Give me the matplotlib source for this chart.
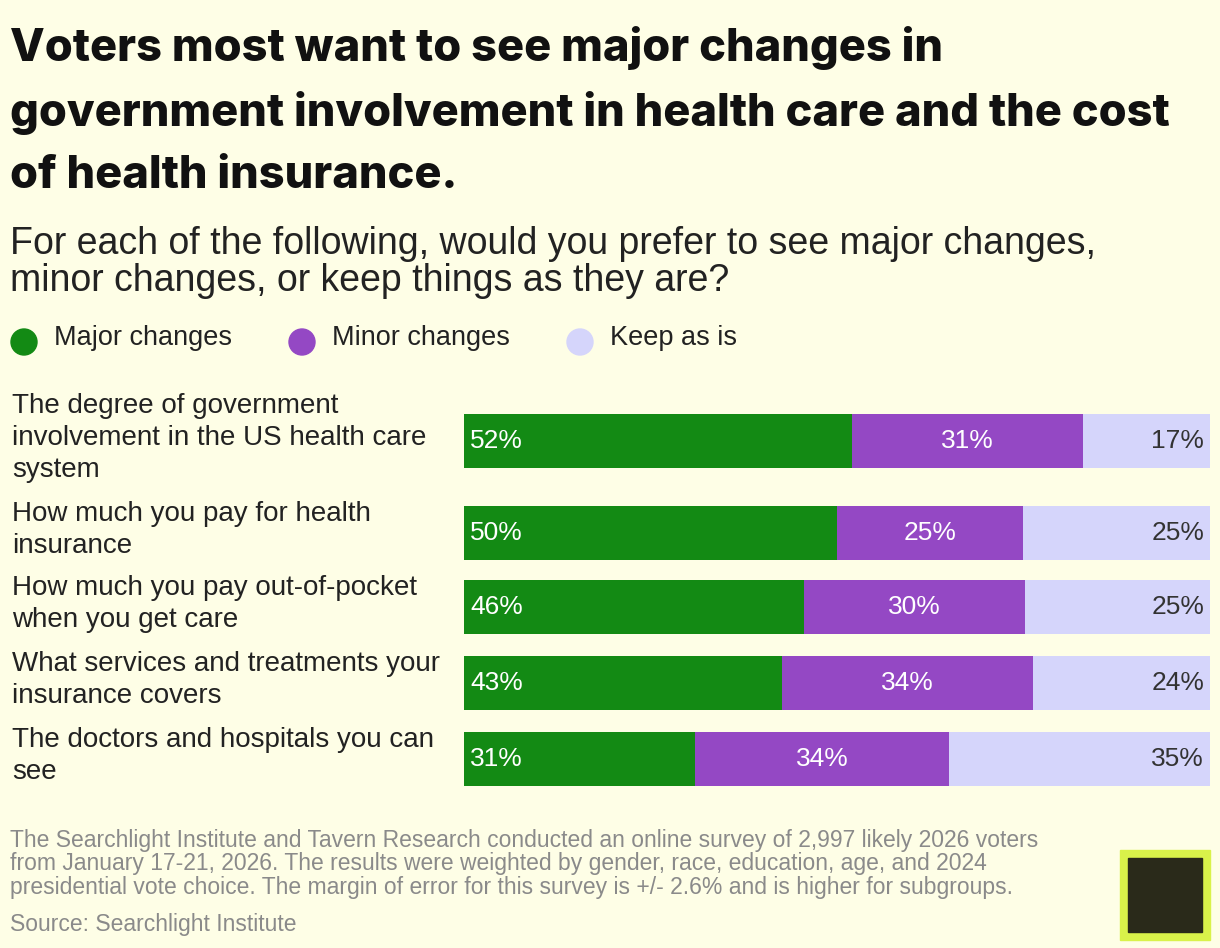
import matplotlib
matplotlib.use("Agg")
import matplotlib.pyplot as plt
from matplotlib.patches import Rectangle, Ellipse

categories = ["The degree of government\ninvolvement in the US health care\nsystem",
              "How much you pay for health\ninsurance",
              "How much you pay out-of-pocket\nwhen you get care",
              "What services and treatments your\ninsurance covers",
              "The doctors and hospitals you can\nsee"]
major = [52, 50, 46, 43, 31]
minor = [31, 25, 30, 34, 34]
keep = [17, 25, 25, 24, 35]
series_names = ["Major changes", "Minor changes", "Keep as is"]
colors = ["#138a14", "#9448c4", "#d5d5fb"]
txtcol = ["white", "white", "#333333"]
BG = "#fefee6"
W, H = 1220, 948

plt.rcParams['font.family'] = ['Liberation Sans', 'DejaVu Sans']
fig = plt.figure(figsize=(W/100, H/100), dpi=100, facecolor=BG)

def fx(x): return x / W
def fy(y): return 1 - y / H

fig.text(fx(10), fy(26), "Voters most want to see major changes in\ngovernment involvement in health care and the cost\nof health insurance.",
         family=['Inter', 'DejaVu Sans'], fontweight='heavy', fontsize=32.5, va='top', ha='left',
         linespacing=1.6, color='#111111')
fig.text(fx(10), fy(226), "For each of the following, would you prefer to see major changes,\nminor changes, or keep things as they are?",
         fontsize=27, va='top', ha='left', color='#222222', linespacing=1.05)

leg_x = [24, 302, 580]
for name, c, x in zip(series_names, colors, leg_x):
    fig.patches.append(Ellipse((fx(x), fy(342)), 26/W, 26/H, transform=fig.transFigure, color=c))
    fig.text(fx(x + 30), fy(338), name, fontsize=19.5, va='center', ha='left', color='#222222')

centers = [441, 533, 607, 683, 759]
bh = 54
x0, x1 = 464, 1210
for i, cat in enumerate(categories):
    cy = centers[i]
    ax = fig.add_axes([fx(x0), fy(cy + bh/2), fx(x1 - x0), bh / H])
    ax.set_axis_off()
    vals = [major[i], minor[i], keep[i]]
    tot = sum(vals)
    left = 0
    for j, v in enumerate(vals):
        ax.barh(0, v, left=left, height=1, color=colors[j])
        if j == 0:
            ax.text(left + 0.8, 0, f"{v}%", ha='left', va='center', color=txtcol[j], fontsize=19)
        elif j == 1:
            ax.text(left + v/2, 0, f"{v}%", ha='center', va='center', color=txtcol[j], fontsize=19)
        else:
            ax.text(tot - 0.8, 0, f"{v}%", ha='right', va='center', color=txtcol[j], fontsize=19)
        left += v
    ax.set_xlim(0, tot)
    ax.set_ylim(-0.5, 0.5)
    fig.text(fx(12), fy(cy - 3), cat, fontsize=20, va='center', ha='left', color='#222222', linespacing=1.3)

fig.text(fx(10), fy(829), "The Searchlight Institute and Tavern Research conducted an online survey of 2,997 likely 2026 voters\nfrom January 17-21, 2026. The results were weighted by gender, race, education, age, and 2024\npresidential vote choice. The margin of error for this survey is +/- 2.6% and is higher for subgroups.",
         fontsize=16.5, va='top', ha='left', color='#8a8a8a', linespacing=1.02)
fig.text(fx(10), fy(924), "Source: Searchlight Institute", fontsize=16.5, va='center', ha='left', color='#8a8a8a')

fig.patches.append(Rectangle((fx(1120), fy(940)), fx(90), 90/H, transform=fig.transFigure, color='#d9f24a'))
fig.patches.append(Rectangle((fx(1128), fy(932)), fx(74), 74/H, transform=fig.transFigure, color='#2a2a1a'))

fig.savefig("out.png", dpi=100, facecolor=BG)
